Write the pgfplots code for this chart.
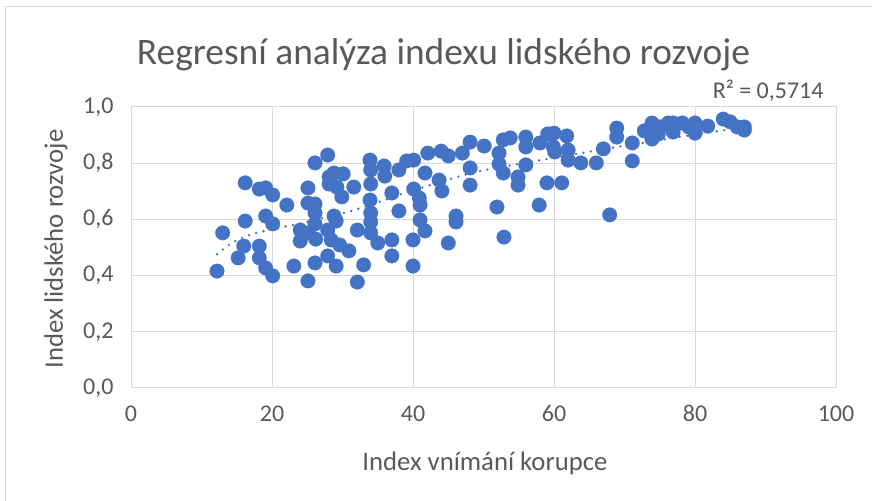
\documentclass[border=0pt]{standalone}
\usepackage{pgfplots}
\pgfplotsset{compat=1.18}
\usepackage{fontspec}
\setmainfont{Carlito}
\definecolor{mk}{HTML}{4472C4}
\definecolor{gr}{HTML}{D9D9D9}
\definecolor{tx}{HTML}{595959}
\begin{document}
\begin{tikzpicture}[x=1bp,y=1bp]
\useasboundingbox (0,0) rectangle (872,501);
\draw[gr, line width=1bp] (5.5,0) -- (5.5,494.5) -- (872,494.5);
\begin{axis}[
  at={(131bp,113bp)}, anchor=south west,
  scale only axis, width=705bp, height=281bp,
  xmin=0, xmax=100, ymin=0, ymax=1,
  xtick={0,20,...,100}, ytick={0,0.2,...,1.0},
  grid=major, major grid style={draw=gr, line width=1bp},
  axis line style={draw=gr, line width=1bp},
  major tick length=0pt,
  /pgf/number format/assume math mode=true,
  /pgf/number format/use comma,
  yticklabel style={/pgf/number format/fixed, /pgf/number format/fixed zerofill, /pgf/number format/precision=1, xshift=-14bp},
  xticklabel style={yshift=-14bp},
  ticklabel style={font=\fontsize{24bp}{28bp}\selectfont, text=tx},
  clip=false,
]
\addplot[color=mk, only marks, mark=*, mark size=7.3bp, mark options={fill=mk, draw=mk, line width=0.2bp}] coordinates {
(12.2,0.416) (13.0,0.552) (16.2,0.730) (16.2,0.594) (15.2,0.463) (16.0,0.505)
(18.2,0.505) (18.2,0.463) (19.1,0.427) (20.1,0.399) (18.2,0.708) (19.1,0.712)
(20.1,0.687) (19.1,0.612) (20.1,0.584) (22.1,0.651) (23.1,0.434) (25.1,0.712)
(25.1,0.658) (26.1,0.655) (24.0,0.562) (24.0,0.523) (25.2,0.552) (26.1,0.623)
(26.1,0.584) (26.2,0.530) (25.1,0.381) (26.1,0.445) (26.1,0.801) (27.9,0.829)
(28.1,0.751) (28.8,0.765) (28.1,0.726) (29.2,0.715) (30.1,0.762) (29.9,0.680)
(28.8,0.612) (29.1,0.594) (27.9,0.562) (28.4,0.527) (27.9,0.470) (29.1,0.434)
(29.6,0.509) (30.9,0.488) (31.6,0.715) (32.1,0.562) (32.1,0.377) (33.0,0.438)
(33.9,0.669) (33.9,0.811) (34.0,0.776) (34.0,0.726) (34.0,0.623) (34.0,0.591)
(34.0,0.552) (35.0,0.516) (35.9,0.790) (36.0,0.754) (37.0,0.694) (37.0,0.527)
(37.0,0.470) (38.0,0.630) (38.0,0.776) (39.1,0.808) (40.1,0.811) (40.1,0.708)
(40.0,0.527) (40.0,0.434) (40.9,0.676) (41.0,0.651) (41.0,0.598) (41.7,0.559)
(41.7,0.765) (42.1,0.836) (44.0,0.843) (43.7,0.740) (44.1,0.701) (45.0,0.826)
(45.0,0.516) (46.1,0.612) (46.1,0.591) (47.0,0.836) (48.1,0.875) (48.1,0.783)
(48.1,0.722) (50.1,0.861) (52.2,0.836) (52.2,0.797) (51.9,0.644) (52.8,0.883)
(52.9,0.537) (52.8,0.765) (53.8,0.890) (54.9,0.751) (54.9,0.722) (56.0,0.893)
(56.0,0.858) (56.0,0.794) (57.9,0.651) (58.0,0.872) (59.0,0.730) (59.1,0.904)
(60.0,0.907) (59.9,0.858) (60.1,0.840) (61.1,0.730) (61.8,0.897) (62.0,0.847)
(62.0,0.811) (63.8,0.801) (66.0,0.801) (67.0,0.851) (67.9,0.616) (68.9,0.925)
(68.9,0.893) (71.1,0.872) (71.1,0.808) (72.8,0.915) (73.9,0.943) (73.9,0.886)
(73.5,0.918) (74.8,0.904) (75.0,0.929) (76.2,0.943) (76.9,0.943) (76.9,0.911)
(78.2,0.943) (79.1,0.929) (80.0,0.943) (80.0,0.907) (81.8,0.932) (84.0,0.957)
(85.0,0.947) (86.0,0.929) (87.0,0.929) (87.0,0.918)
};
\addplot[mk, line width=2.6bp, line cap=round, dash pattern=on 0bp off 7.5bp, smooth, tension=0.5] coordinates {
(12.2,0.476) (14.0,0.511) (16.1,0.538) (18.3,0.555) (22.9,0.580) (27,0.604)
(30.8,0.627) (35.3,0.663) (38.6,0.692) (45.2,0.743) (49.7,0.773) (57.9,0.810)
(63.7,0.835) (68.2,0.855) (75,0.882) (80,0.902) (87,0.928)
};
\end{axis}
\node[text=tx, font=\fontsize{37.4bp}{44bp}\selectfont] at (443.5,446) {Regresní analýza indexu lidského rozvoje};
\node[text=tx, font=\fontsize{26.7bp}{32bp}\selectfont] at (485,38) {Index vnímání korupce};
\node[text=tx, font=\fontsize{26.7bp}{32bp}\selectfont, rotate=90] at (56,252) {Index lidského rozvoje};
\node[text=tx, font=\fontsize{24bp}{28bp}\selectfont, anchor=east] at (827,410) {R² = 0,5714};
\end{tikzpicture}
\end{document}
